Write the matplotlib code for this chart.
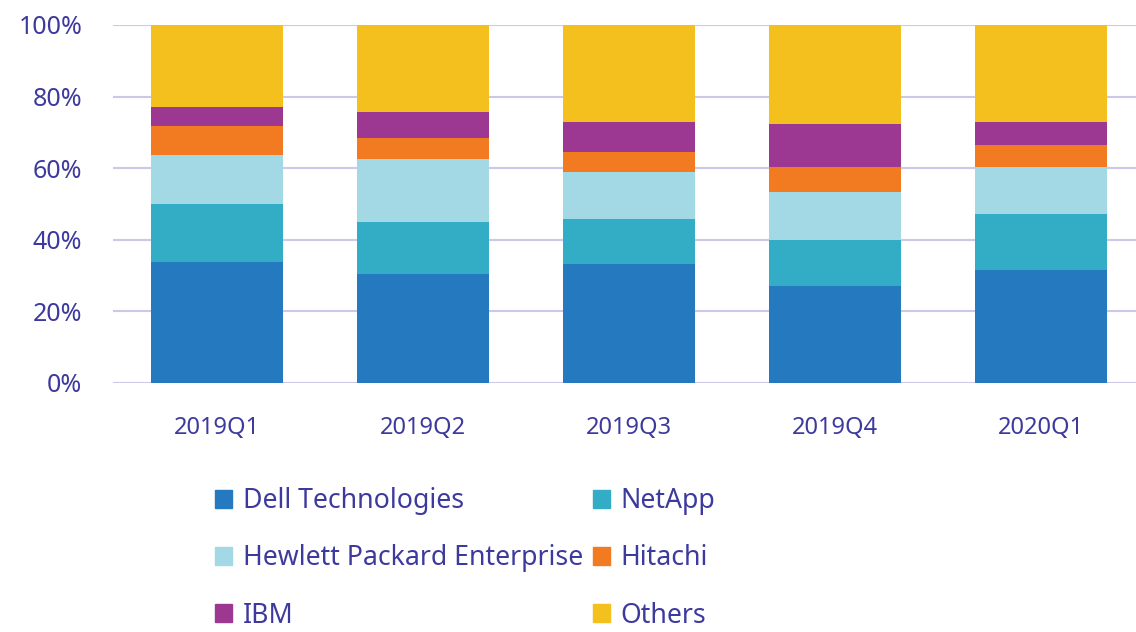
import numpy as np
import matplotlib
matplotlib.use("Agg")
import matplotlib.pyplot as plt
from matplotlib.patches import Patch
from matplotlib.ticker import FuncFormatter

plt.rcParams['font.family'] = ['Noto Sans', 'DejaVu Sans']

# quarters on the x axis
kwartaly = ["2019Q1", "2019Q2", "2019Q3", "2019Q4", "2020Q1"]

# market share (%) per vendor
dell = [33.9, 30.4, 33.2, 27.1, 31.6]
netapp = [16.0, 14.7, 12.5, 12.8, 15.5]
hpe = [13.8, 17.4, 13.3, 13.4, 13.3]
hitachi = [8.1, 5.8, 5.6, 7.1, 6.1]
ibm = [5.2, 7.5, 8.4, 11.9, 6.3]
others = [23.0, 24.2, 27.0, 27.7, 27.2]

nazwy = ["Dell Technologies", "NetApp", "Hewlett Packard Enterprise",
         "Hitachi", "IBM", "Others"]
kolory = ["#2479bf", "#33adc6", "#a2d9e4", "#f27a21", "#9c3892", "#f4c01d"]
kolor_tekstu = "#3d3a9e"

serie = [dell, netapp, hpe, hitachi, ibm, others]

fig = plt.figure(figsize=(11.36, 6.32), dpi=100)
ax = fig.add_axes([113 / 1136, 249 / 632, 1023 / 1136, 358 / 632])

x = np.arange(len(kwartaly))
dol = np.zeros(len(kwartaly))
for wartosci, nazwa, kolor in zip(serie, nazwy, kolory):
    ax.bar(x, wartosci, bottom=dol, width=0.64, color=kolor, label=nazwa, zorder=3)
    dol += np.array(wartosci)

ax.set_ylim(0, 100)
ax.set_xlim(-0.505, 4.46)
ax.set_yticks(np.arange(0, 101, 20))
ax.yaxis.set_major_formatter(FuncFormatter(lambda v, p: f"{int(v)}%"))
ax.set_xticks(x)
ax.set_xticklabels(kwartaly)
ax.grid(axis="y", color="#cbc8e8", linewidth=1.5, zorder=0)
for s in ax.spines.values():
    s.set_visible(False)
ax.tick_params(axis="both", length=0, labelcolor=kolor_tekstu)
ax.tick_params(axis="y", pad=22, labelsize=18)
ax.tick_params(axis="x", pad=24, labelsize=17)

# legend row by row: Dell, NetApp / HPE, Hitachi / IBM, Others
kolejnosc = [0, 2, 4, 1, 3, 5]
uchwyty = [Patch(color=kolory[i]) for i in kolejnosc]
etykiety = [nazwy[i] for i in kolejnosc]
leg = fig.legend(uchwyty, etykiety, ncol=2, loc="upper left",
                 bbox_to_anchor=(191 / 1136, 1 - 463 / 632),
                 frameon=False, fontsize=19.2, handlelength=0.65, handleheight=0.65,
                 handletextpad=0.4, labelspacing=1.1, columnspacing=0.35)
for t in leg.get_texts():
    t.set_color(kolor_tekstu)

fig.savefig("out.png", dpi=100)
